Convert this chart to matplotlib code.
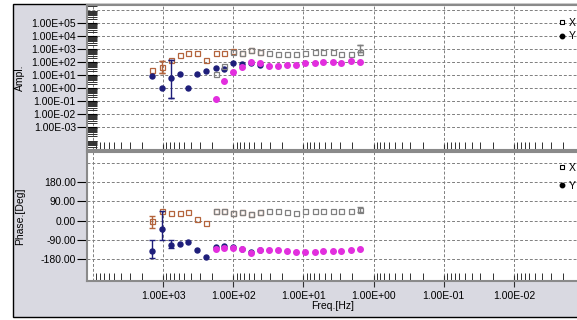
import numpy as np
import matplotlib.pyplot as plt
from matplotlib.ticker import FixedLocator, FuncFormatter, LogLocator, NullFormatter
from matplotlib.lines import Line2D
from matplotlib.patches import Rectangle

plt.rcParams['font.family'] = ['Liberation Sans', 'DejaVu Sans']
plt.rcParams['font.size'] = 7.5

# high band (brown squares = X, navy dots = Y)
freq_a = [1436, 1044, 776, 571, 440, 327, 243, 178, 134, 100, 74.3, 55.3, 41.1]
amp_xa = [26, 39, 140, 345, 470, 470, 130, 470, 470, 700, 490, 840, 560]
amp_ya = [7.9, 1.05, 6.2, 11.9, 1.05, 11.9, 22, 36.5, 26.5, 79, 70, 84, 59]
ph_xa = [0, 43, 36, 36, 42, 7, -13, 43, 43, 36, 42, 31, 39]
ph_ya = [-144, -39, -116, -109, -101, -136, -171, -124, -121, -126, -133, -147, -137]

# low band (gray squares = X, magenta dots = Y)
freq_b = [178, 134, 100, 74.3, 55.3, 41.1, 30.6, 22.8, 16.9, 12.6, 9.36, 6.96,
          5.18, 3.85, 2.87, 2.13, 1.58]
amp_xb = [11.9, 52, 590, 450, 770, 560, 470, 435, 390, 435, 490, 560, 560, 560, 435, 435, 560]
amp_yb = [0.143, 3.65, 18, 38, 105, 79, 52, 52, 59, 59, 79, 79, 105, 95, 79, 126, 105]
ph_xb = [43, 43, 36, 42, 31, 39, 43, 43, 42, 36, 43, 43, 43, 43, 43, 43, 50]
ph_yb = [-132, -129, -127, -135, -150, -137, -137, -140, -144, -148, -148, -148,
         -144, -143, -143, -137, -132]

# error bars
amp_err_f = [1044, 776, 1.58]
amp_err_lo = [14, 0.17, 560]
amp_err_hi = [120, 141, 2040]
amp_err_c = ['brown', 'navy', 'gray']
ph_err_f = [1436, 1044, 1436, 776, 1.58]
ph_err_lo = [-37, -89, -177, -130, 40]
ph_err_hi = [23, 47, -93, -93, 62]
ph_err_c = ['brown', 'navy', 'navy', 'navy', 'gray']

cols = {'brown': '#b4643c', 'navy': '#1e1e7a', 'gray': '#808080', 'magenta': '#e22ede'}

W, H = 577, 320
def box(x0, y0, x1, y1):
    return [x0 / W, 1 - y1 / H, (x1 - x0) / W, (y1 - y0) / H]

fig = plt.figure(figsize=(5.77, 3.2), dpi=100)
fig.patch.set_facecolor('white')
fig.add_artist(Rectangle((12.5 / W, 1 - 317 / H), 1, (317 - 4) / H, transform=fig.transFigure,
                         facecolor='#d9d9e1', edgecolor='black', lw=1, zorder=-1))

ax1 = fig.add_axes(box(87, 5, 578, 150))
ax2 = fig.add_axes(box(87, 152, 578, 281))

sci = FuncFormatter(lambda v, p: f"{v:.2E}")

for ax in (ax1, ax2):
    ax.set_facecolor('white')
    ax.set_xscale('log')
    ax.set_xlim(10 ** 4.086, 10 ** -2.914)
    ax.xaxis.set_major_locator(FixedLocator(10.0 ** np.arange(3, -3, -1)))
    ax.xaxis.set_minor_locator(LogLocator(base=10, subs=np.arange(2, 10), numticks=100))
    ax.xaxis.set_minor_formatter(NullFormatter())
    ax.grid(True, which='major', ls=(0, (3, 2)), lw=0.7, color='#7f7f7f')
    ax.axvline(1e4, ls=(0, (3, 2)), lw=0.7, color='#7f7f7f', zorder=0.5)
    ax.set_axisbelow(True)
    for s in ax.spines.values():
        s.set_color('#8a8a8a')
        s.set_linewidth(1.5)
    ax.spines['right'].set_visible(False)
    ax.tick_params(axis='x', which='minor', direction='in', length=6, width=0.7, color='#303030', top=False)
    ax.tick_params(axis='x', which='major', direction='inout', length=8, width=0.8, color='#303030', pad=3, top=False)
    ax.tick_params(axis='y', right=False)

# amplitude panel
ax1.set_yscale('log')
ax1.set_ylim(10 ** -4.77, 10 ** 6.38)
ax1.yaxis.set_major_locator(FixedLocator(10.0 ** np.arange(-3, 6)))
ax1.yaxis.set_major_formatter(sci)
ax1.yaxis.set_minor_locator(LogLocator(base=10, subs=np.arange(2, 10), numticks=100))
ax1.yaxis.set_minor_formatter(NullFormatter())
ax1.tick_params(axis='y', which='major', direction='inout', length=14, width=0.8, pad=1)
ax1.tick_params(axis='y', which='minor', direction='in', length=7, width=0.7, color='#303030')
ax1.tick_params(axis='x', labelbottom=False)
ax1.axhline(1e6, ls=(0, (3, 2)), lw=0.7, color='#7f7f7f', zorder=0.5)

ax1.plot(freq_a, amp_xa, 's', mfc='none', mec=cols['brown'], ms=3.6, mew=0.9)
ax1.plot(freq_a, amp_ya, 'o', color=cols['navy'], ms=3.6)
ax1.plot(freq_b, amp_xb, 's', mfc='none', mec=cols['gray'], ms=3.6, mew=0.9)
ax1.plot(freq_b, amp_yb, 'o', color=cols['magenta'], ms=4.0)
for f, lo, hi, c in zip(amp_err_f, amp_err_lo, amp_err_hi, amp_err_c):
    ax1.plot([f, f], [lo, hi], color=cols[c], lw=1)
    ax1.errorbar([f], [hi], yerr=[[0], [0]], fmt='none', ecolor=cols[c], capsize=2.5, lw=1)
    ax1.errorbar([f], [lo], yerr=[[0], [0]], fmt='none', ecolor=cols[c], capsize=2.5, lw=1)
ax1.set_ylabel('Ampl.')
ax1.yaxis.set_label_coords(-0.126, 0.5)

# phase panel
ax2.set_ylim(-283, 321)
ax2.yaxis.set_major_locator(FixedLocator([-180, -90, 0, 90, 180]))
ax2.yaxis.set_major_formatter(FuncFormatter(lambda v, p: f"{v:.2f}"))
ax2.tick_params(axis='y', which='major', direction='out', length=7, width=0.8, pad=1)
ax2.xaxis.set_major_formatter(sci)
ax2.axhline(270, ls=(0, (3, 2)), lw=0.7, color='#7f7f7f', zorder=0.5)

ax2.plot(freq_a, ph_xa, 's', mfc='none', mec=cols['brown'], ms=3.6, mew=0.9)
ax2.plot(freq_a, ph_ya, 'o', color=cols['navy'], ms=3.6)
ax2.plot(freq_b, ph_xb, 's', mfc='none', mec=cols['gray'], ms=3.6, mew=0.9)
ax2.plot(freq_b, ph_yb, 'o', color=cols['magenta'], ms=4.0)
for f, lo, hi, c in zip(ph_err_f, ph_err_lo, ph_err_hi, ph_err_c):
    ax2.errorbar([f], [(lo + hi) / 2], yerr=[[(hi - lo) / 2], [(hi - lo) / 2]], fmt='none',
                 ecolor=cols[c], capsize=2.5, lw=1)
ax2.set_ylabel('Phase.[Deg]')
ax2.yaxis.set_label_coords(-0.126, 0.5)
ax2.set_xlabel('Freq.[Hz]', labelpad=0.5)

h_x = Line2D([], [], ls='none', marker='s', mfc='white', mec='black', ms=3.2, mew=0.8)
h_y = Line2D([], [], ls='none', marker='o', color='black', ms=3.2)
ax1.legend([h_x, h_y], ['X', 'Y'], loc='upper left', bbox_to_anchor=(0.958, 0.912), frameon=False,
           handlelength=0.8, handletextpad=0.3, borderpad=0, borderaxespad=0, labelspacing=0.35)
ax2.legend([h_x, h_y], ['X', 'Y'], loc='upper left', bbox_to_anchor=(0.958, 0.916), frameon=False,
           handlelength=0.8, handletextpad=0.3, borderpad=0, borderaxespad=0, labelspacing=0.78)

fig.savefig('out.png', dpi=100)
